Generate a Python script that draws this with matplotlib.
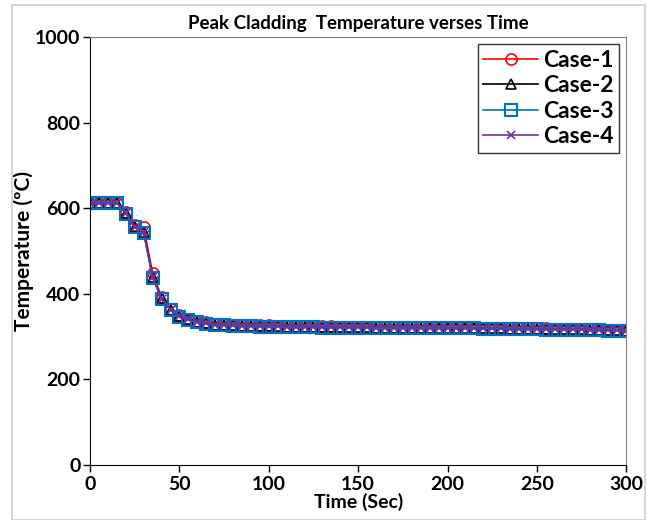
import numpy as np
import matplotlib.pyplot as plt
from matplotlib.patches import Rectangle

plt.rcParams['font.family'] = ['Lato', 'DejaVu Sans']
plt.rcParams['font.weight'] = 'bold'

# time in seconds, every 5 s
time = list(range(0, 305, 5))

case1 = [613, 613, 613, 613, 590, 560, 555, 448, 392, 365, 350, 342, 337, 333, 330,
         329, 328, 327, 327, 326, 326, 325, 325, 325, 324, 324, 324, 324, 323, 323,
         323, 323, 323, 322, 322, 322, 322, 322, 321, 321, 321, 321, 321, 320, 320,
         320, 320, 319, 319, 319, 319, 319, 318, 318, 318, 317, 317, 316, 316, 315, 312]
case2 = [612, 612, 612, 612, 588, 556, 543, 440, 389, 362, 347, 340, 335, 331, 328,
         327, 326, 325, 325, 324, 324, 324, 323, 323, 323, 323, 322, 322, 322, 322,
         322, 322, 321, 321, 321, 321, 321, 321, 320, 320, 320, 320, 320, 320, 319,
         319, 319, 318, 318, 318, 318, 317, 317, 317, 317, 317, 316, 316, 315, 315, 314]
case3 = [612, 612, 612, 612, 587, 555, 542, 437, 387, 361, 346, 339, 334, 330, 327,
         326, 325, 324, 324, 323, 323, 323, 322, 322, 322, 322, 321, 321, 321, 321,
         321, 321, 320, 320, 320, 320, 320, 320, 319, 319, 319, 319, 319, 319, 318,
         318, 318, 317, 317, 317, 317, 316, 316, 316, 316, 316, 315, 315, 314, 314, 312]
case4 = [612, 612, 612, 612, 588, 556, 543, 439, 388, 362, 347, 340, 335, 331, 328,
         327, 326, 325, 325, 324, 324, 324, 323, 323, 323, 323, 322, 322, 322, 322,
         322, 322, 321, 321, 321, 321, 321, 321, 320, 320, 320, 320, 320, 320, 319,
         319, 319, 318, 318, 318, 318, 317, 317, 317, 317, 317, 316, 316, 315, 315, 313]

fig = plt.figure(figsize=(6.53, 5.2), dpi=100)
fig.patches.append(Rectangle((0.018, 0.0), 0.97, 0.99, transform=fig.transFigure,
                             fill=False, edgecolor='#d0d0d0', linewidth=1.2))
ax = fig.add_axes([0.138, 0.106, 0.821, 0.823])

ax.plot(time, case1, color='red', marker='o', ms=8, mfc='none', mew=1.2, lw=1.2, label='Case-1')
ax.plot(time, case2, color='black', marker='^', ms=7, mfc='none', mew=1.2, lw=1.2, label='Case-2')
ax.plot(time, case3, color='#0070C0', marker='s', ms=9, mfc='none', mew=1.5, lw=1.2, label='Case-3')
ax.plot(time, case4, color='#7030A0', marker='x', ms=6, mew=1.2, lw=1.2, label='Case-4')

ax.set_xlim(0, 300)
ax.set_ylim(0, 1000)
ax.set_xticks(range(0, 301, 50))
ax.set_yticks(range(0, 1001, 200))
ax.tick_params(labelsize=14, direction='out', length=5, width=1)
ax.tick_params(axis='x', pad=3)
ax.tick_params(axis='y', pad=2)
for lab in ax.get_xticklabels() + ax.get_yticklabels():
    lab.set_fontweight('bold')
for s in ['top', 'right']:
    ax.spines[s].set_color('#808080')
for s in ['left', 'bottom']:
    ax.spines[s].set_color('black')

ax.set_title('Peak Cladding  Temperature verses Time', fontsize=13.5, fontweight='bold', pad=6)
ax.set_xlabel('Time (Sec)', fontsize=14, fontweight='bold', labelpad=0)
ax.set_ylabel('Temperature (ºC)', fontsize=15, fontweight='bold', labelpad=1)

leg = ax.legend(loc='upper right', fontsize=16.5, frameon=True, fancybox=False,
                edgecolor='black', borderpad=0.25, handlelength=2.4, handletextpad=0.2,
                labelspacing=0.2, borderaxespad=0.3)
leg.get_frame().set_linewidth(1.0)

fig.savefig('out.png', dpi=100)
